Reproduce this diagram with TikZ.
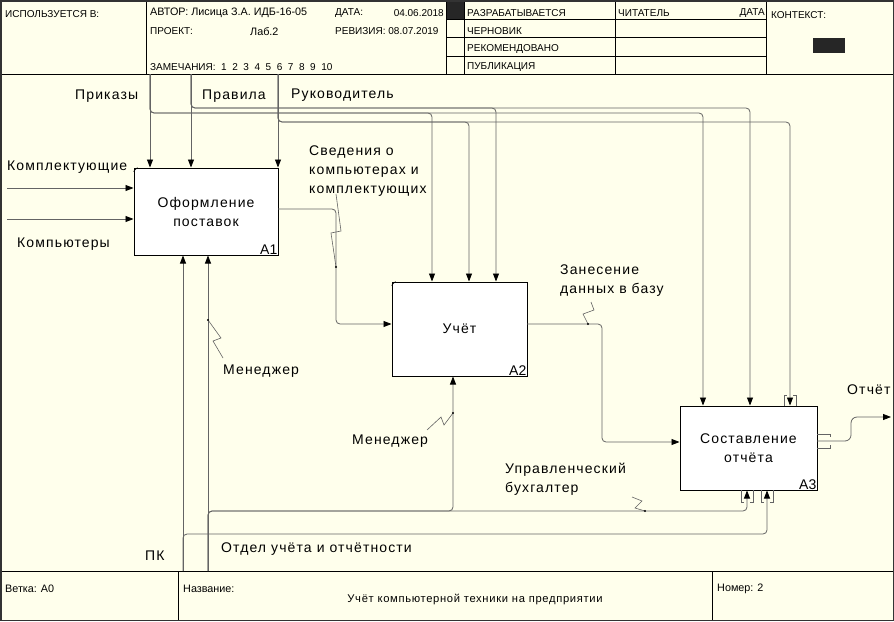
\documentclass[tikz,border=0pt]{standalone}
\usepackage{fontspec}
\setmainfont{Liberation Sans}
\newfontfamily\lblfont[LetterSpace=8]{Liberation Sans}
\newfontfamily\ttlfont[LetterSpace=6]{Liberation Sans}
\usetikzlibrary{arrows.meta,calc}
\definecolor{bg}{RGB}{255,255,236}
\definecolor{ln}{RGB}{100,100,100}
\begin{document}
\begin{tikzpicture}[x=1pt,y=-1pt,
  conn/.style={draw=ln, line width=0.8pt, rounded corners=4pt},
  arr/.style={conn, -{Triangle[length=8pt,width=6pt,color=black]}},
  sq/.style={draw=ln, line width=0.6pt},
  hl/.style={draw=black, line width=0.8pt},
  box/.style={draw=black, fill=white, line width=1pt, inner sep=0pt, align=center,
    font=\lblfont\fontsize{14}{19}\selectfont},
  num/.style={font=\fontsize{14}{16}\selectfont, anchor=south east, inner sep=1pt},
  lbl/.style={font=\lblfont\fontsize{14}{19}\selectfont, anchor=west, inner sep=0pt, align=left},
  hdr/.style={font=\fontsize{10}{12}\selectfont, anchor=west, inner sep=0pt},
  hdrm/.style={font=\fontsize{10.8}{12}\selectfont, anchor=west, inner sep=0pt},
  dot/.style={fill=black, circle, inner sep=0pt, minimum size=2.2pt}]
\fill[bg] (0,0) rectangle (894,621);
\useasboundingbox (0,0) rectangle (894,621);
% ---------- header ----------
\draw[hl] (0,74) -- (894,74);
\foreach \xx in {146,446,464,615,766} \draw[hl] (\xx,0) -- (\xx,74);
\foreach \yy in {19,37.5,56} \draw[hl] (446,\yy) -- (766,\yy);
\fill[black!85] (447,1) rectangle (464,19);
\fill[black!85] (813,38) rectangle (845,53);
\node[hdr] (hUsed) at (5,14) {ИСПОЛЬЗУЕТСЯ В:};
\node[hdrm] (hAuth) at (150,13) {АВТОР: Лисица З.А. ИДБ-16-05};
\node[hdr] (hDate) at (335,13) {ДАТА:};
\node[hdr, anchor=east] (hDateV) at (444,13) {04.06.2018};
\node[hdr] (hProj) at (150,31) {ПРОЕКТ:};
\node[hdrm] (hProjV) at (250,32) {Лаб.2};
\node[hdr] (hRev) at (335,31) {РЕВИЗИЯ: 08.07.2019};
\node[hdr] (hNotes) at (150,67) {ЗАМЕЧАНИЯ:\ \ 1\ \ 2\ \ 3\ \ 4\ \ 5\ \ 6\ \ 7\ \ 8\ \ 9\ \ 10};
\node[hdr] (hS1) at (467,13) {РАЗРАБАТЫВАЕТСЯ};
\node[hdr] (hS2) at (467,31) {ЧЕРНОВИК};
\node[hdr] (hS3) at (467,49) {РЕКОМЕНДОВАНО};
\node[hdr] (hS4) at (467,67) {ПУБЛИКАЦИЯ};
\node[hdr] (hRead) at (618,13) {ЧИТАТЕЛЬ};
\node[hdr, anchor=east] (hRdate) at (765,13) {ДАТА};
\node[hdr] (hCtx) at (771,15) {КОНТЕКСТ:};
% ---------- footer ----------
\draw[hl] (0,571) -- (894,571);
\draw[hl] (178,571) -- (178,621);
\draw[hl] (712,571) -- (712,621);
\node[hdrm] (fBr) at (5,589) {Ветка: A0};
\node[hdrm] (fNm) at (183,589) {Название:};
\node[anchor=center, inner sep=0pt, font=\ttlfont\fontsize{11.2}{13}\selectfont] (fTitle) at (475,599) {Учёт компьютерной техники на предприятии};
\node[hdrm] (fNo) at (717,589) {Номер: 2};
% ---------- boxes ----------
\node[box, minimum width=144pt, minimum height=87pt] (A1) at (206,211.5) {Оформление\\поставок};
\node[box, minimum width=135pt, minimum height=94pt] (A2) at (459.5,329) {Учёт};
\node[box, minimum width=137pt, minimum height=84pt] (A3) at (748.5,448) {Составление\\отчёта};
\node[num] (n1) at (A1.south east) {A1};
\node[num] (n2) at (A2.south east) {A2};
\node[num] (n3) at (A3.south east) {A3};
\draw[line width=0.6pt] ($(A1.north west)+(0,4)$) -- ($(A1.north west)+(4,0)$);
\draw[line width=0.6pt] ($(A2.north west)+(0,4)$) -- ($(A2.north west)+(4,0)$);
% ---------- coordinates ----------
\coordinate (prT) at (150,74);
\coordinate (pvT) at (191,74);
\coordinate (rkT) at (278,74);
\coordinate (pr2) at (432,113);
\coordinate (pr3) at (703,113);
\coordinate (pv2) at (496,108);
\coordinate (pv3) at (750,108);
\coordinate (rk2) at (469,122);
\coordinate (rk3) at (790,122);
\coordinate (inK) at (7,188);
\coordinate (inC) at (7,219);
\coordinate (pkB) at (183,571);
\coordinate (otB) at (208,571);
\coordinate (pk3) at (767,534);
\coordinate (ot2) at (453,511);
\coordinate (ot3) at (747,511);
\coordinate (o1) at (278,209);
\coordinate (o1b) at (336,324);
\coordinate (o2) at (527,324);
\coordinate (o2b) at (602,442);
\coordinate (o3) at (817,441);
\coordinate (o3b) at (851,417);
\coordinate (outE) at (891,417);
% ---------- controls ----------
\draw[arr] (prT) -- (prT |- A1.north);
\draw[arr] (pvT) -- (pvT |- A1.north);
\draw[arr] (rkT) -- (rkT |- A1.north);
\draw[arr] (prT) |- (pr2) -- (pr2 |- A2.north);
\draw[arr] (prT) |- (pr3) -- (pr3 |- A3.north);
\draw[arr] (pvT) |- (pv2) -- (pv2 |- A2.north);
\draw[arr] (pvT) |- (pv3) -- (pv3 |- A3.north);
\draw[arr] (rkT) |- (rk2) -- (rk2 |- A2.north);
\draw[arr] (rkT) |- (rk3) -- (rk3 |- A3.north);
% ---------- inputs / outputs ----------
\draw[arr] (inK) -- (inK -| A1.west);
\draw[arr] (inC) -- (inC -| A1.west);
\draw[arr] (o1) -| (o1b) -- (o1b -| A2.west);
\draw[arr] (o2) -| (o2b) -- (o2b -| A3.west);
\draw[conn, rounded corners=6pt, -{Triangle[length=8pt,width=6pt,color=black]}] (o3) -| (o3b) -- (outE);
% ---------- mechanisms ----------
\draw[arr] (pkB) -- (pkB |- A1.south);
\draw[arr] (otB) -- (otB |- A1.south);
\draw[arr] (pkB) |- (pk3) -- (pk3 |- A3.south);
\draw[arr] (otB) |- (ot2) -- (ot2 |- A2.south);
\draw[arr] (otB) |- (ot3) -- (ot3 |- A3.south);
% ---------- tunnels ----------
\draw[sq] (784,406) -- (784,395) -- (787,395);
\draw[sq] (796,406) -- (796,395) -- (793,395);
\draw[sq] (741,490) -- (741,502) -- (744,502);
\draw[sq] (753,490) -- (753,502) -- (750,502);
\draw[sq] (761,490) -- (761,502) -- (764,502);
\draw[sq] (773,490) -- (773,502) -- (770,502);
\draw[sq] (817,434) -- (830,434) -- (830,437);
\draw[sq] (817,448) -- (830,448) -- (830,445);
% ---------- labels ----------
\node[lbl] (lPr) at (75,96) {Приказы};
\node[lbl] (lPv) at (202,96) {Правила};
\node[lbl] (lRk) at (291,95) {Руководитель};
\node[lbl] (lK) at (7,167) {Комплектующие};
\node[lbl] (lC) at (17,244) {Компьютеры};
\node[lbl] (lSv) at (309,171) {Сведения о\\компьютерах и\\комплектующих};
\node[lbl] (lZn) at (560,281) {Занесение\\данных в базу};
\node[lbl] (lM1) at (223,371) {Менеджер};
\node[lbl] (lM2) at (352,441) {Менеджер};
\node[lbl] (lUb) at (505,479) {Управленческий\\бухгалтер};
\node[lbl] (lOt) at (847,390) {Отчёт};
\node[lbl] (lPk) at (145,556) {ПК};
\node[lbl] (lOd) at (221,549) {Отдел учёта и отчётности};
% ---------- squiggles ----------
\draw[sq] (336,194) -- (341,231) -- (331,233) -- (336,267);
\node[dot] (d1) at (336,267) {};
\draw[sq] (591,302) -- (594,310) -- (583,314) -- (588,324);
\node[dot] (d2) at (588,324) {};
\draw[sq] (208,320) -- (221,338) -- (213,341) -- (223,358);
\node[dot] (d3) at (208,320) {};
\draw[sq] (427,430) -- (441,417) -- (444,425) -- (453,413);
\node[dot] (d4) at (453,413) {};
\draw[sq] (632,497) -- (642,501) -- (635,508) -- (645,511);
\node[dot] (d5) at (645,511) {};
% ---------- frame ----------
\draw[draw=black!80, line width=1.5pt] (0.75,0.75) rectangle (893.25,620.25);
\end{tikzpicture}
\end{document}
